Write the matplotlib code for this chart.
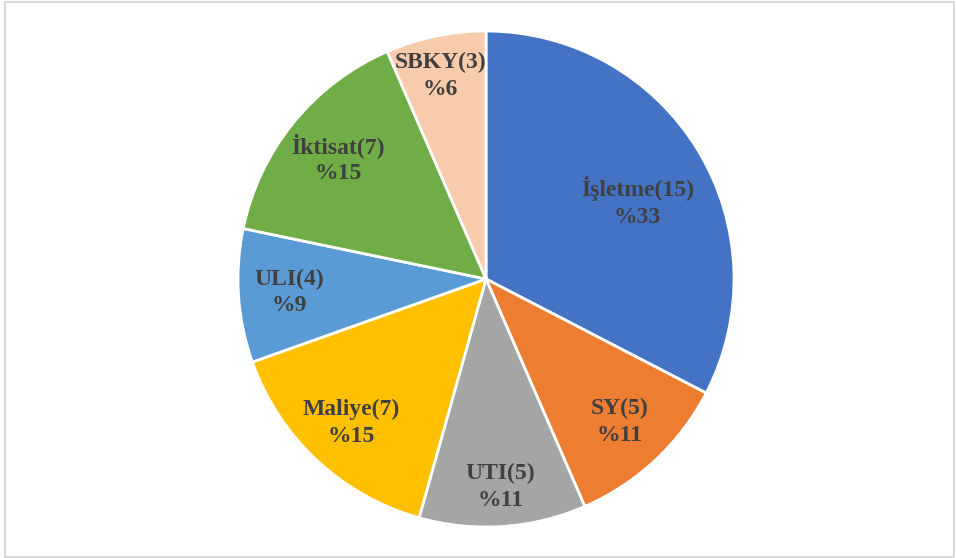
import numpy as np
import matplotlib.pyplot as plt
from matplotlib.patches import Rectangle

# data
names = ["İşletme", "SY", "UTI", "Maliye", "ULI", "İktisat", "SBKY"]
counts = [15, 5, 5, 7, 4, 7, 3]
pct_labels = ["%33", "%11", "%11", "%15", "%9", "%15", "%6"]
colors = ["#4472C4", "#ED7D31", "#A5A5A5", "#FFC000", "#5B9BD5", "#70AD47", "#F8CBAD"]
# label placement: distance from centre (fraction of radius) and angle nudge (deg)
label_dist = [0.685, 0.79, 0.84, 0.795, 0.795, 0.77, 0.84]
label_nudge = [-4.3, 0, 0, 0, 0, 0, 0.8]

fig = plt.figure(figsize=(9.56, 5.58), dpi=100)
fig.patches.append(Rectangle((5 / 956, 1 / 558), 949 / 956, 555 / 558,
                             transform=fig.transFigure, fill=False,
                             edgecolor="#D9D9D9", linewidth=1.5))

ax = fig.add_axes([238 / 956, 31 / 558, 496 / 956, 496 / 558])
wedges, _ = ax.pie(counts, colors=colors, startangle=90, counterclock=False,
                   radius=1, wedgeprops=dict(edgecolor="white", linewidth=2))
ax.set_xlim(-1, 1)
ax.set_ylim(-1, 1)
ax.set_aspect("equal")
ax.axis("off")

for w, name, n, pct, d, nudge in zip(wedges, names, counts, pct_labels,
                                     label_dist, label_nudge):
    ang = np.deg2rad((w.theta1 + w.theta2) / 2 + nudge)
    ax.text(d * np.cos(ang), d * np.sin(ang), f"{name}({n})\n{pct}",
            ha="center", va="center", fontsize=17, fontweight="bold",
            family="Liberation Serif", color="#404040", linespacing=1.35)

fig.savefig("out.png", dpi=100)
